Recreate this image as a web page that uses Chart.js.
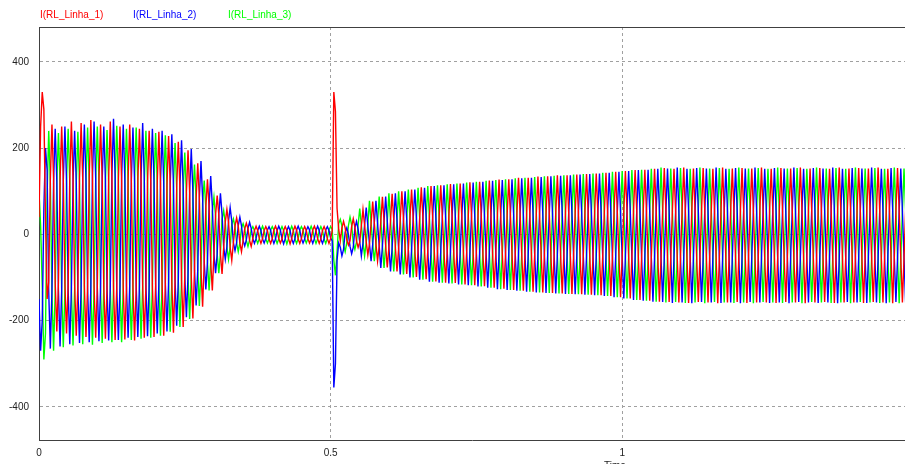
<!DOCTYPE html>
<html>
<head>
<meta charset="utf-8">
<script src="https://cdn.jsdelivr.net/npm/chart.js@4.4.1/dist/chart.umd.min.js"></script>
<style>
  html, body { margin: 0; padding: 0; background: #fff; overflow: hidden; }
  #wrap { width: 905px; height: 464px; }
</style>
</head>
<body>
<div id="wrap"><canvas id="c" width="905" height="464"></canvas></div>
<script>
// Line currents of the three RL branches, stored every 1/360 s (six samples per 60 Hz cycle)
const SAMPLE_STEP = 1 / 360;
const seriesNames = ['I(RL_Linha_1)', 'I(RL_Linha_2)', 'I(RL_Linha_3)'];
const seriesColors = ['#ff0000', '#0000ff', '#00ff00'];
const xTicks = [0, 0.5, 1];
const yTicks = [-400, -200, 0, 200, 400];
const xRange = [0, 1.485];
const yRange = [-477, 481];

const iLinha1 = [
  40, 250, 330, 290, 40, -150,
  -110, 128, 255, 128, -112, -225,
  -113, 125, 250, 126, -115, -230,
  -116, 131, 262, 130, -118, -235,
  -117, 129, 258, 128, -119, -238,
  -120, 132, 265, 133, -121, -240,
  -121, 127, 255, 128, -122, -242,
  -122, 131, 262, 130, -123, -245,
  -122, 125, 250, 125, -123, -244,
  -123, 127, 255, 127, -124, -246,
  -122, 122, 245, 123, -120, -240,
  -119, 120, 240, 121, -119, -238,
  -118, 119, 238, 118, -117, -235,
  -114, 114, 228, 113, -113, -228,
  -108, 108, 215, 107, -107, -215,
  -98, 98, 195, 97, -97, -195,
  -84, 83, 165, 83, -84, -168,
  -65, 64, 128, 64, -65, -130,
  -46, 45, 90, 45, -46, -92,
  -30, 29, 58, 29, -30, -60,
  -20, 19, 38, 19, -20, -40,
  -14, 13, 26, 13, -14, -28,
  -10, 9, 19, 9, -10, -21,
  -10, 9, 18, 9, -11, -21,
  -10, 10, 19, 9, -10, -20,
  -11, 9, 18, 9, -10, -22,
  -10, 9, 19, 10, -11, -21,
  -10, 9, 18, 9, -10, -20,
  -11, 10, 19, 9, -10, -21,
  -10, 9, 18, 9, -10, -21,
  -10, 8, 330, 285, 60, 12,
  -15, 15, 30, 15, -12, -25,
  -15, 18, 36, 17, -15, -30,
  -18, 20, 58, 22, -18, -48,
  -22, 26, 76, 27, -22, -62,
  -27, 30, 87, 31, -26, -77,
  -30, 33, 94, 34, -30, -86,
  -33, 35, 100, 36, -33, -92,
  -35, 37, 104, 38, -35, -99,
  -37, 38, 109, 39, -37, -104,
  -38, 40, 112, 40, -38, -109,
  -39, 40, 114, 41, -39, -112,
  -40, 41, 117, 42, -40, -113,
  -41, 42, 118, 42, -41, -116,
  -41, 43, 121, 43, -42, -118,
  -42, 43, 122, 44, -42, -120,
  -43, 44, 125, 44, -43, -124,
  -44, 45, 127, 45, -44, -126,
  -45, 46, 128, 46, -45, -129,
  -45, 46, 131, 47, -46, -131,
  -46, 47, 131, 47, -46, -133,
  -47, 48, 134, 48, -47, -135,
  -47, 48, 135, 49, -48, -136,
  -48, 49, 137, 49, -48, -137,
  -48, 49, 137, 50, -49, -138,
  -49, 50, 139, 50, -49, -139,
  -49, 50, 140, 51, -50, -140,
  -50, 51, 141, 51, -50, -141,
  -50, 51, 143, 52, -51, -143,
  -51, 52, 145, 52, -51, -146,
  -52, 53, 147, 53, -52, -149,
  -52, 53, 149, 54, -53, -152,
  -53, 54, 150, 54, -53, -154,
  -53, 54, 152, 55, -54, -156,
  -54, 55, 154, 55, -54, -157,
  -54, 54, 152, 55, -55, -158,
  -55, 55, 155, 56, -54, -159,
  -54, 55, 153, 55, -55, -157,
  -55, 56, 154, 55, -54, -158,
  -54, 55, 152, 56, -55, -160,
  -55, 55, 155, 55, -55, -158,
  -54, 56, 153, 55, -54, -157,
  -55, 55, 154, 56, -55, -159,
  -55, 55, 153, 55, -54, -158,
  -54, 56, 155, 55, -55, -158,
  -55, 55, 152, 56, -55, -159,
  -55, 55, 154, 55, -54, -157,
  -54, 56, 153, 55, -55, -158,
  -55, 55, 155, 56, -55, -160,
  -54, 55, 153, 55, -54, -158,
  -55, 56, 154, 55, -55, -157,
  -55, 55, 152, 56, -55, -159,
  -54, 55, 155, 55, -54, -158,
  -55, 56, 153, 55, -55, -158,
  -55, 55, 154, 56, -55, -159,
  -54, 55, 153, 55, -54, -157,
  -55, 56, 155, 55, -55, -158,
  -55, 55, 152, 56, -55, -160,
  -54, 55, 154, 55, -54, -158,
  -55, 56, 153, 55, -55, -158
];

const iLinha2 = [
  -150, -270, -200, 60, 200, 150,
  -132, -265, -130, 122, 245, 123,
  -130, -260, -129, 125, 250, 124,
  -128, -255, -127, 120, 240, 121,
  -126, -252, -125, 128, 255, 127,
  -125, -250, -124, 131, 262, 130,
  -124, -248, -123, 125, 250, 126,
  -123, -246, -122, 134, 268, 133,
  -123, -245, -121, 128, 255, 127,
  -120, -240, -119, 124, 248, 123,
  -119, -238, -118, 129, 258, 128,
  -118, -236, -117, 122, 245, 123,
  -115, -230, -114, 120, 240, 119,
  -113, -225, -111, 116, 232, 115,
  -106, -212, -105, 109, 218, 108,
  -96, -192, -95, 99, 198, 98,
  -83, -165, -82, 85, 170, 84,
  -64, -128, -64, 67, 135, 67,
  -45, -90, -45, 47, 95, 47,
  -29, -58, -29, 31, 62, 31,
  -19, -38, -19, 20, 40, 20,
  -14, -27, -13, 14, 28, 14,
  -10, -21, -10, 9, 19, 9,
  -11, -20, -10, 10, 18, 9,
  -10, -21, -11, 9, 19, 10,
  -10, -22, -10, 9, 18, 9,
  -11, -21, -10, 10, 19, 9,
  -10, -20, -11, 9, 18, 10,
  -10, -21, -10, 9, 19, 9,
  -11, -21, -10, 10, 18, 9,
  -8, -15, -355, -300, -60, -20,
  -30, -50, -35, 5, 15, 0,
  -28, -45, -30, 15, 30, 12,
  -18, -50, -20, 22, 62, 20,
  -22, -62, -23, 27, 78, 26,
  -27, -78, -27, 30, 88, 31,
  -30, -86, -30, 34, 95, 33,
  -33, -93, -33, 35, 100, 36,
  -35, -100, -35, 37, 104, 38,
  -37, -105, -37, 38, 108, 39,
  -38, -110, -38, 40, 112, 40,
  -39, -112, -39, 41, 114, 40,
  -40, -114, -40, 41, 116, 42,
  -41, -116, -41, 42, 118, 42,
  -41, -118, -42, 43, 120, 43,
  -42, -121, -42, 44, 122, 43,
  -43, -124, -43, 44, 124, 44,
  -44, -127, -44, 45, 126, 45,
  -45, -129, -45, 46, 128, 46,
  -45, -131, -46, 46, 130, 47,
  -46, -133, -46, 47, 131, 47,
  -47, -135, -47, 48, 133, 48,
  -47, -136, -48, 48, 135, 49,
  -48, -137, -48, 49, 136, 49,
  -48, -138, -49, 49, 137, 50,
  -49, -139, -49, 50, 139, 50,
  -49, -140, -50, 50, 140, 51,
  -50, -141, -50, 51, 141, 51,
  -50, -143, -51, 51, 143, 52,
  -51, -146, -51, 52, 145, 52,
  -52, -149, -52, 53, 147, 53,
  -52, -152, -53, 53, 149, 54,
  -53, -154, -53, 54, 150, 54,
  -53, -156, -54, 54, 152, 55,
  -54, -157, -55, 55, 153, 54,
  -55, -159, -54, 54, 155, 55,
  -54, -158, -55, 55, 152, 56,
  -55, -160, -54, 56, 154, 55,
  -54, -157, -55, 55, 153, 54,
  -55, -158, -54, 54, 155, 55,
  -55, -159, -55, 55, 152, 56,
  -54, -158, -54, 56, 154, 55,
  -55, -160, -55, 55, 153, 54,
  -54, -157, -54, 54, 155, 55,
  -55, -158, -55, 55, 152, 56,
  -55, -159, -54, 56, 154, 55,
  -54, -158, -55, 55, 153, 54,
  -55, -160, -54, 54, 155, 55,
  -54, -157, -55, 55, 152, 56,
  -55, -158, -54, 56, 154, 55,
  -55, -159, -55, 55, 153, 54,
  -54, -158, -54, 54, 155, 55,
  -55, -160, -55, 55, 152, 56,
  -54, -157, -54, 56, 154, 55,
  -55, -158, -55, 55, 153, 54,
  -55, -159, -54, 54, 155, 55,
  -54, -158, -55, 55, 152, 56,
  -55, -160, -54, 56, 154, 55,
  -54, -157, -55, 55, 153, 54,
  -55, -158, -54, 54, 155, 55
];

const iLinha3 = [
  100, 20, -120, -290, -230, 90,
  240, 120, -135, -270, -134, 121,
  235, 118, -131, -262, -130, 123,
  245, 122, -129, -258, -128, 119,
  238, 119, -128, -255, -127, 124,
  248, 124, -128, -256, -127, 125,
  250, 125, -126, -252, -125, 121,
  242, 121, -125, -250, -124, 126,
  252, 126, -125, -250, -124, 122,
  245, 123, -123, -245, -122, 124,
  248, 124, -121, -242, -120, 120,
  240, 120, -120, -240, -119, 118,
  235, 118, -118, -235, -117, 115,
  230, 115, -113, -226, -112, 112,
  212, 106, -108, -215, -107, 103,
  190, 95, -98, -196, -97, 89,
  162, 81, -83, -166, -82, 72,
  125, 62, -65, -130, -64, 53,
  86, 43, -45, -90, -44, 35,
  55, 28, -29, -58, -29, 23,
  36, 18, -20, -40, -19, 15,
  25, 13, -14, -28, -13, 11,
  18, 9, -10, -21, -10, 9,
  19, 9, -11, -20, -10, 10,
  18, 10, -10, -21, -11, 9,
  18, 9, -10, -22, -10, 9,
  19, 9, -11, -21, -10, 10,
  18, 10, -10, -20, -10, 9,
  19, 9, -10, -21, -11, 9,
  18, 9, -11, -21, -10, 10,
  18, 12, -60, -95, -40, 25,
  35, 20, -25, -40, -20, 20,
  40, 22, -20, -35, -18, 22,
  60, 22, -18, -50, -19, 22,
  78, 27, -22, -62, -23, 26,
  88, 31, -27, -78, -27, 30,
  95, 34, -30, -86, -30, 33,
  100, 35, -33, -93, -33, 36,
  104, 37, -35, -100, -35, 38,
  108, 39, -37, -105, -37, 38,
  112, 40, -38, -110, -38, 40,
  114, 41, -39, -112, -39, 40,
  116, 41, -40, -114, -40, 42,
  118, 42, -41, -116, -41, 42,
  120, 43, -41, -118, -42, 43,
  122, 44, -42, -121, -42, 43,
  124, 44, -43, -124, -43, 44,
  126, 45, -44, -127, -44, 45,
  128, 46, -45, -129, -45, 46,
  130, 46, -45, -131, -46, 47,
  131, 47, -46, -133, -46, 47,
  133, 48, -47, -135, -47, 48,
  135, 48, -47, -136, -48, 49,
  136, 49, -48, -137, -48, 49,
  137, 49, -48, -138, -49, 50,
  139, 50, -49, -139, -49, 50,
  140, 50, -49, -140, -50, 51,
  141, 51, -50, -141, -50, 51,
  143, 51, -50, -143, -51, 52,
  145, 52, -51, -146, -51, 52,
  147, 53, -52, -149, -52, 53,
  149, 53, -52, -152, -53, 54,
  150, 54, -53, -154, -53, 54,
  152, 54, -53, -156, -54, 55,
  155, 55, -54, -158, -55, 54,
  153, 54, -55, -157, -54, 55,
  154, 56, -54, -159, -55, 55,
  152, 55, -55, -158, -54, 56,
  155, 54, -54, -160, -55, 55,
  153, 55, -55, -157, -54, 54,
  154, 56, -54, -158, -55, 55,
  152, 55, -55, -159, -54, 56,
  155, 54, -54, -158, -55, 55,
  153, 55, -55, -160, -54, 54,
  154, 56, -54, -157, -55, 55,
  152, 55, -55, -158, -54, 56,
  155, 54, -54, -159, -55, 55,
  153, 55, -55, -158, -54, 54,
  154, 56, -54, -160, -55, 55,
  152, 55, -55, -157, -54, 56,
  155, 54, -54, -158, -55, 55,
  153, 55, -55, -159, -54, 54,
  154, 56, -54, -158, -55, 55,
  152, 55, -55, -160, -54, 56,
  155, 54, -54, -157, -55, 55,
  153, 55, -55, -158, -54, 54,
  154, 56, -54, -159, -55, 55,
  152, 55, -55, -158, -54, 56,
  155, 54, -54, -160, -55, 55,
  153, 55, -55, -157, -54, 54
];

const currents = [iLinha1, iLinha2, iLinha3];

// pair each stored sample with its simulation time
function toPoints(values) {
  return values.map((v, i) => ({ x: i * SAMPLE_STEP, y: v }));
}

const FONT = { family: 'Liberation Sans, Arial, sans-serif', size: 10 };

// frame line on top of the plot, series names above it and the cut-off axis caption
const plotDecor = {
  id: 'plotDecor',
  beforeDatasetsDraw(chart) {
    const { ctx, chartArea: a } = chart;
    ctx.save();
    ctx.strokeStyle = '#404040';
    ctx.lineWidth = 1;
    ctx.beginPath();
    ctx.moveTo(a.left, a.top + 0.5);
    ctx.lineTo(a.right, a.top + 0.5);
    ctx.stroke();
    ctx.restore();
  },
  afterDraw(chart) {
    const { ctx } = chart;
    const legendX = [40, 133, 228];
    ctx.save();
    ctx.font = FONT.size + 'px ' + FONT.family;
    ctx.textBaseline = 'middle';
    ctx.textAlign = 'left';
    seriesNames.forEach((name, k) => {
      ctx.fillStyle = seriesColors[k];
      ctx.fillText(name, legendX[k], 15);
    });
    ctx.fillStyle = '#222';
    ctx.textBaseline = 'top';
    ctx.fillText('Time', 604, 461);
    ctx.restore();
  }
};

new Chart(document.getElementById('c'), {
  type: 'line',
  data: {
    datasets: currents.map((vals, k) => ({
      label: seriesNames[k],
      data: toPoints(vals),
      borderColor: seriesColors[k],
      backgroundColor: seriesColors[k],
      borderWidth: 1.4,
      pointRadius: 0,
      tension: 0,
      fill: false
    }))
  },
  options: {
    responsive: false,
    animation: false,
    devicePixelRatio: 1,
    layout: { padding: { top: 27, right: 0, left: 0, bottom: 0 } },
    plugins: { legend: { display: false }, tooltip: { enabled: false } },
    scales: {
      x: {
        type: 'linear',
        min: xRange[0],
        max: xRange[1],
        afterBuildTicks: s => { s.ticks = xTicks.map(v => ({ value: v })); },
        afterFit: s => { s.height = 24; },
        ticks: { font: FONT, color: '#222', padding: 7, maxRotation: 0, callback: v => String(v) },
        grid: { color: '#a0a0a0', lineWidth: 1, drawTicks: false },
        border: { display: true, color: '#404040', width: 1, dash: [3, 3] }
      },
      y: {
        type: 'linear',
        min: yRange[0],
        max: yRange[1],
        afterBuildTicks: s => { s.ticks = yTicks.map(v => ({ value: v })); },
        afterFit: s => { s.width = 39; },
        ticks: { font: FONT, color: '#222', padding: 10, callback: v => String(v) },
        grid: { color: '#a0a0a0', lineWidth: 1, drawTicks: false },
        border: { display: true, color: '#404040', width: 1, dash: [3, 3] }
      }
    }
  },
  plugins: [plotDecor]
});
</script>
</body>
</html>
